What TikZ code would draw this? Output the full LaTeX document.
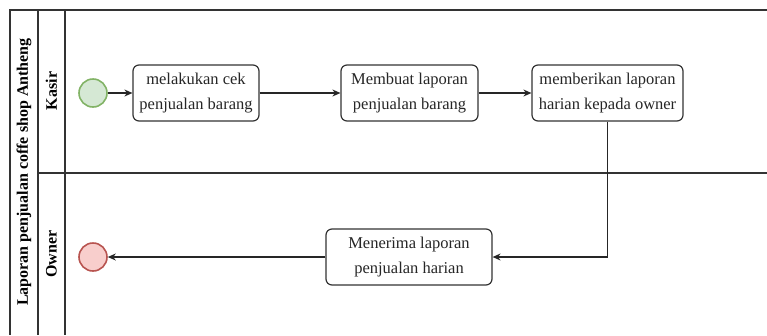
\documentclass[tikz,border=0pt]{standalone}
\usepackage{fontspec}
\setmainfont{Liberation Serif}
\usetikzlibrary{arrows.meta}

\definecolor{startfill}{HTML}{D5E8D4}
\definecolor{startline}{HTML}{82B366}
\definecolor{endfill}{HTML}{F8CECC}
\definecolor{endline}{HTML}{B85450}

\begin{document}
\begin{tikzpicture}[x=1pt, y=-1pt, >={Stealth[length=8pt,width=7pt]},
    lane/.style={draw=black!80, line width=1.1pt},
    task/.style={draw=black!80, line width=1.2pt, rounded corners=6pt, fill=white,
        align=center, minimum height=56pt, inner xsep=2pt,
        font=\fontsize{16.5}{25}\selectfont, text=black!85},
    startev/.style={circle, draw=startline, fill=startfill, line width=1.6pt,
        minimum size=28pt, inner sep=0pt},
    endev/.style={circle, draw=endline, fill=endfill, line width=1.6pt,
        minimum size=28pt, inner sep=0pt},
    lanelabel/.style={rotate=90, font=\bfseries\fontsize{16}{18}\selectfont},
    flow/.style={->, draw=black!85, line width=1.1pt}]

    \useasboundingbox (0,0) rectangle (767,335);

    % pool and lanes
    \draw[lane] (767,10) -- (10,10) -- (10,335);
    \draw[lane] (38,10) -- (38,335);
    \draw[lane] (65,10) -- (65,335);
    \draw[lane] (38,173) -- (767,173);

    % pool and lane titles
    \node[lanelabel] (pool) at (24,172) {Laporan penjualan coffe shop Antheng};
    \node[lanelabel] (kasir) at (51.5,91) {Kasir};
    \node[lanelabel] (owner) at (51.5,254) {Owner};

    % kasir lane
    \node[startev] (start) at (93,93) {};
    \node[task, minimum width=126pt] (cek) at (196,93) {melakukan cek\\penjualan barang};
    \node[task, minimum width=137pt] (buat) at (409.5,93) {Membuat laporan\\penjualan barang};
    \node[task, minimum width=151pt] (beri) at (607.5,93) {memberikan laporan\\harian kepada owner};

    % owner lane
    \node[task, minimum width=166pt] (terima) at (409,257) {Menerima laporan\\penjualan harian};
    \node[endev] (finish) at (93,257) {};

    % sequence flows
    \draw[flow] (start) -- (cek);
    \draw[flow] (cek) -- (buat);
    \draw[flow] (buat) -- (beri);
    \draw[flow] (beri.south) |- (terima.east);
    \draw[flow] (terima) -- (finish);

\end{tikzpicture}
\end{document}
